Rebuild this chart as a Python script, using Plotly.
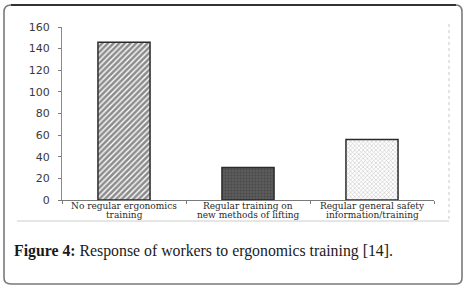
import plotly.graph_objects as go

# Survey responses on ergonomics training
categories = [
    "No regular ergonomics training",
    "Regular training on new methods of lifting",
    "Regular general safety information/training",
]
label_lines = [
    ["No regular ergonomics", "training"],
    ["Regular training on", "new methods of lifting"],
    ["Regular general safety", "information/training"],
]
responses = [146, 30, 56]
y_ticks = [0, 20, 40, 60, 80, 100, 120, 140, 160]

W, H = 467, 290
ML, MR, MT, MB = 62, 33, 27, 90
PW, PH = W - ML - MR, H - MT - MB


def px(x):
    return (x - ML) / PW


def py(y):
    return (H - MB - y) / PH


patterns = [
    dict(shape="/", fgcolor="#1a1a1a", bgcolor="#ffffff", size=4, solidity=0.65),
    dict(shape=".", fgcolor="#333333", bgcolor="#5c5c5c", size=3, solidity=0.3),
    dict(shape="x", fgcolor="#8a8a8a", bgcolor="#ffffff", size=3, solidity=0.35),
]

fig = go.Figure()
for i, (cat, val) in enumerate(zip(categories, responses)):
    fig.add_trace(go.Bar(
        x=[cat], y=[val], width=0.42,
        marker=dict(color="#ffffff", pattern=patterns[i],
                    line=dict(color="#2b2b2b", width=1.5)),
        showlegend=False,
    ))

annotations = []
for cat, lines in zip(categories, label_lines):
    for j, ln in enumerate(lines):
        annotations.append(dict(
            x=cat, xref="x", y=py(206 + 9 * j), yref="paper",
            text=ln, showarrow=False, xanchor="center", yanchor="middle",
            font=dict(family="DejaVu Serif", size=9, color="#2a2a2a"),
        ))

annotations.append(dict(
    x=px(12), xref="paper", y=py(251), yref="paper",
    text="<b>Figure 4:</b> Response of workers to ergonomics training [14].",
    showarrow=False, xanchor="left", yanchor="middle",
    font=dict(family="Liberation Serif", size=15.8, color="#1a1a1a"),
))

shapes = [
    # outer rounded frame
    dict(type="path", xref="paper", yref="paper",
         path=(f"M {px(4)},{py(12)} Q {px(4)},{py(5)} {px(11)},{py(5)} "
               f"L {px(456)},{py(5)} Q {px(462)},{py(5)} {px(462)},{py(12)} "
               f"L {px(462)},{py(278)} Q {px(462)},{py(284)} {px(456)},{py(284)} "
               f"L {px(11)},{py(284)} Q {px(4)},{py(284)} {px(4)},{py(278)} Z"),
         line=dict(color="#7a7a7a", width=1.6)),
    dict(type="line", xref="paper", yref="paper",
         x0=px(11), x1=px(456), y0=py(5), y1=py(5),
         line=dict(color="#111111", width=1.6)),
    # inner image edges
    dict(type="line", xref="paper", yref="paper",
         x0=px(449), x1=px(449), y0=py(24), y1=py(221),
         line=dict(color="#c8c8c8", width=1, dash="dot")),
    dict(type="line", xref="paper", yref="paper",
         x0=px(17), x1=px(449), y0=py(221), y1=py(221),
         line=dict(color="#cccccc", width=1)),
]

fig.update_layout(
    width=W, height=H,
    margin=dict(l=ML, r=MR, t=MT, b=MB),
    paper_bgcolor="#ffffff", plot_bgcolor="#ffffff",
    bargap=0.58,
    annotations=annotations,
    shapes=shapes,
)
fig.update_xaxes(
    type="category", range=[-0.5, 2.5],
    showticklabels=False, showgrid=False,
    showline=True, linecolor="#7a7a7a", linewidth=1,
    ticks="outside", tickson="boundaries", ticklen=3, tickcolor="#7a7a7a",
)
fig.update_yaxes(
    range=[0, 160], tickvals=y_ticks, showgrid=False, zeroline=False,
    showline=True, linecolor="#8a8a8a", linewidth=1,
    ticks="outside", ticklen=3, tickcolor="#7a7a7a",
    ticklabelstandoff=6,
    tickfont=dict(family="DejaVu Sans", size=11, color="#3a3a3a"),
)

fig.write_html("out.html")
